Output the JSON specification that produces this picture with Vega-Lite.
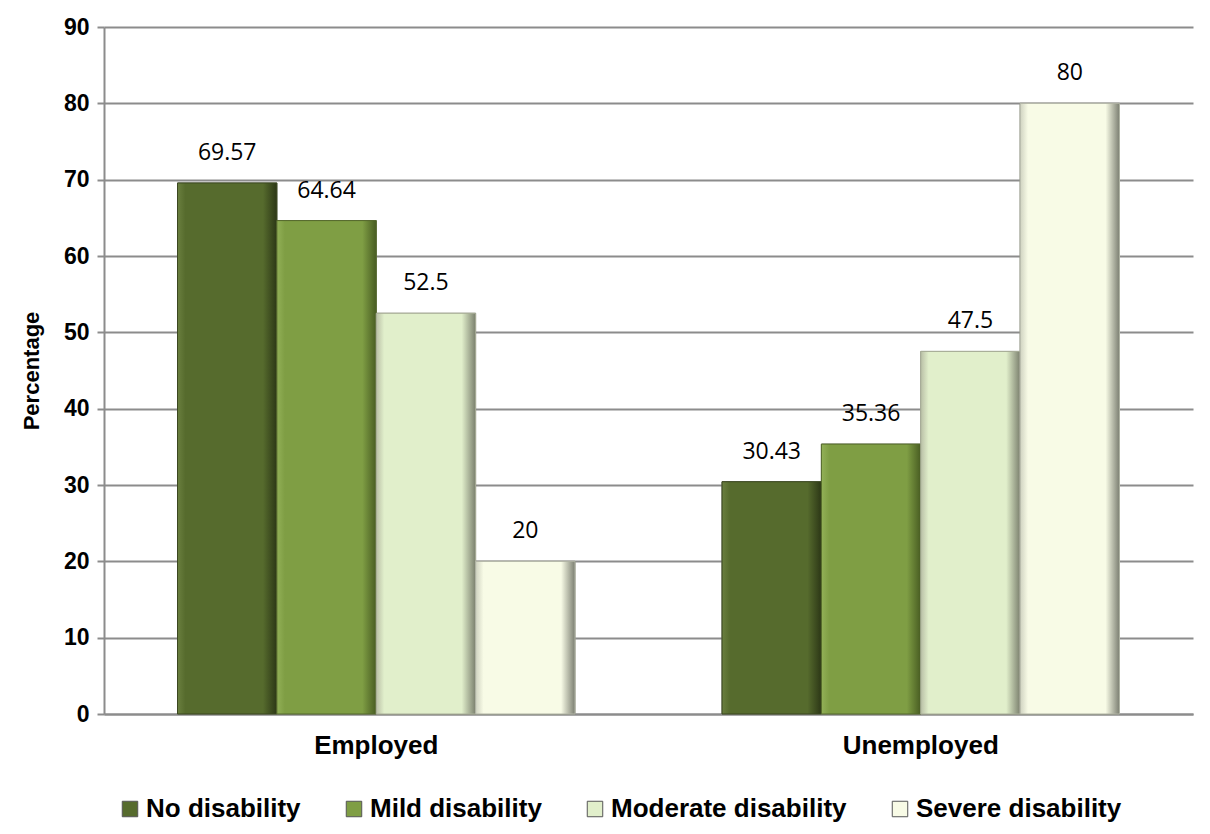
{
  "$schema": "https://vega.github.io/schema/vega-lite/v6.json",
  "width": 1089,
  "height": 687,
  "padding": {"left": 20, "top": 16, "right": 8, "bottom": 5},
  "background": "white",
  "data": {
    "values": [
      {"status": "Employed", "group": "No disability", "value": 69.57},
      {"status": "Employed", "group": "Mild disability", "value": 64.64},
      {"status": "Employed", "group": "Moderate disability", "value": 52.5},
      {"status": "Employed", "group": "Severe disability", "value": 20},
      {"status": "Unemployed", "group": "No disability", "value": 30.43},
      {"status": "Unemployed", "group": "Mild disability", "value": 35.36},
      {"status": "Unemployed", "group": "Moderate disability", "value": 47.5},
      {"status": "Unemployed", "group": "Severe disability", "value": 80}
    ]
  },
  "encoding": {
    "x": {
      "field": "status", "type": "nominal",
      "scale": {"paddingInner": 0, "paddingOuter": 0},
      "axis": {
        "title": null, "labelAngle": 0, "labelFont": "Liberation Sans", "labelFontWeight": "bold",
        "labelFontSize": 26, "labelColor": "black", "labelPadding": 18, "ticks": false,
        "domainColor": "#8c8c8c", "domainWidth": 2
      }
    },
    "xOffset": {
      "field": "group", "type": "nominal",
      "sort": ["No disability", "Mild disability", "Moderate disability", "Severe disability"],
      "scale": {"paddingInner": 0, "paddingOuter": 0.74}
    },
    "y": {
      "field": "value", "type": "quantitative",
      "scale": {"domain": [0, 90], "nice": false},
      "axis": {
        "title": "Percentage", "values": [0, 10, 20, 30, 40, 50, 60, 70, 80, 90],
        "titleFont": "Liberation Sans", "titleFontSize": 22, "titleFontWeight": "bold", "titleColor": "black",
        "titlePadding": 20,
        "labelFont": "Liberation Sans", "labelFontWeight": "bold", "labelFontSize": 23, "labelColor": "black",
        "labelPadding": 8, "tickSize": 7, "tickColor": "#8c8c8c", "tickWidth": 2,
        "domainColor": "#8c8c8c", "domainWidth": 2,
        "grid": true, "gridColor": "#8c8c8c", "gridWidth": 2
      }
    }
  },
  "layer": [
    {
      "mark": {"type": "bar", "stroke": "#7d8272", "strokeWidth": 1},
      "encoding": {
        "color": {
          "field": "group", "type": "nominal",
          "sort": ["No disability", "Mild disability", "Moderate disability", "Severe disability"],
          "scale": {
            "domain": ["No disability", "Mild disability", "Moderate disability", "Severe disability"],
            "range": ["#566b2d", "#7f9e44", "#e1efcb", "#f8fbe6"]
          },
          "legend": {
            "title": null, "orient": "bottom", "direction": "horizontal",
            "labelFont": "Liberation Sans", "labelFontWeight": "bold", "labelFontSize": 26, "labelColor": "black",
            "symbolType": "square", "symbolSize": 240, "symbolStrokeColor": "#555", "symbolStrokeWidth": 1,
            "columnPadding": 40, "labelOffset": 3, "offset": 25, "padding": 13, "labelLimit": 400
          }
        }
      }
    },
    {
      "transform": [{"filter": "datum.group === 'No disability'"}],
      "mark": {"type": "bar", "stroke": "#3a4720", "strokeWidth": 1,
        "color": {"gradient": "linear", "x1": 0, "y1": 0, "x2": 1, "y2": 0,
          "stops": [{"offset": 0, "color": "#6a7f3f"}, {"offset": 0.08, "color": "#566b2d"}, {"offset": 0.86, "color": "#566b2d"}, {"offset": 1, "color": "#2c3716"}]}}
    },
    {
      "transform": [{"filter": "datum.group === 'Mild disability'"}],
      "mark": {"type": "bar", "stroke": "#55692c", "strokeWidth": 1,
        "color": {"gradient": "linear", "x1": 0, "y1": 0, "x2": 1, "y2": 0,
          "stops": [{"offset": 0, "color": "#92b057"}, {"offset": 0.08, "color": "#7f9e44"}, {"offset": 0.86, "color": "#7f9e44"}, {"offset": 1, "color": "#485c22"}]}}
    },
    {
      "transform": [{"filter": "datum.group === 'Moderate disability'"}],
      "mark": {"type": "bar", "stroke": "#a9ae98", "strokeWidth": 1,
        "color": {"gradient": "linear", "x1": 0, "y1": 0, "x2": 1, "y2": 0,
          "stops": [{"offset": 0, "color": "#b9bfa6"}, {"offset": 0.08, "color": "#e1efcb"}, {"offset": 0.86, "color": "#e1efcb"}, {"offset": 1, "color": "#7b806e"}]}}
    },
    {
      "transform": [{"filter": "datum.group === 'Severe disability'"}],
      "mark": {"type": "bar", "stroke": "#b0b3a4", "strokeWidth": 1,
        "color": {"gradient": "linear", "x1": 0, "y1": 0, "x2": 1, "y2": 0,
          "stops": [{"offset": 0, "color": "#cfd2c0"}, {"offset": 0.08, "color": "#f8fbe6"}, {"offset": 0.86, "color": "#f8fbe6"}, {"offset": 1, "color": "#7c7f72"}]}}
    },
    {
      "mark": {"type": "text", "baseline": "bottom", "dy": -18, "font": "Open Sans", "fontSize": 23, "color": "black"},
      "encoding": {
        "text": {"field": "value", "type": "quantitative"}
      }
    }
  ],
  "config": {"view": {"stroke": null}}
}
